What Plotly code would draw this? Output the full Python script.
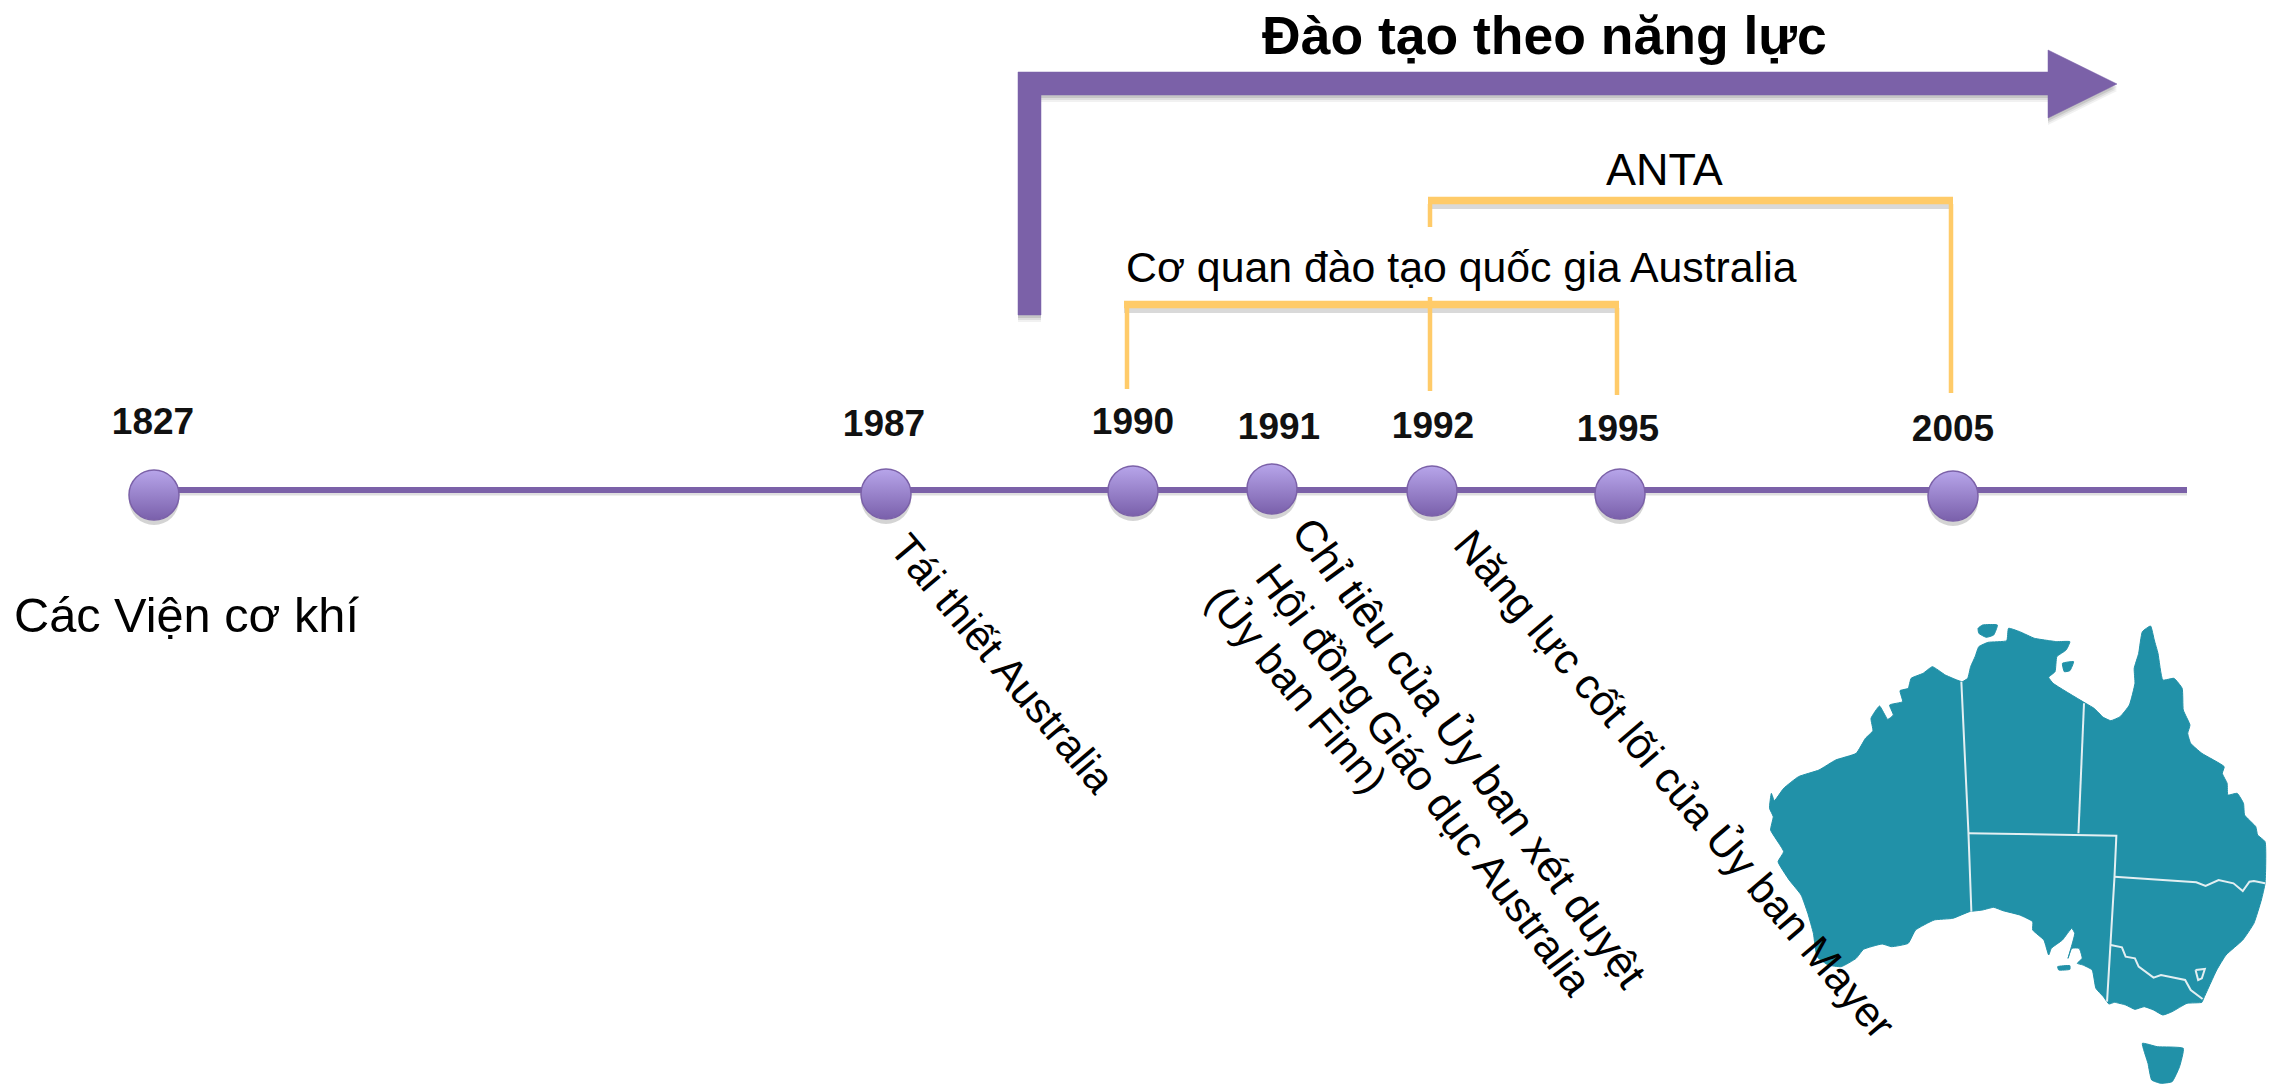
import plotly.graph_objects as go

# ---- Timeline data ----
years = ["1827", "1987", "1990", "1991", "1992", "1995", "2005"]
node_x = [154, 886, 1133, 1272, 1432, 1620, 1953]
node_y = [495, 494, 491, 489, 491, 494, 496]
year_label_x = [153, 884, 1133, 1279, 1433, 1618, 1953]
year_label_y = [425, 427, 425, 430, 429, 432, 432]
axis_x = [175, 2187]
axis_y = [490, 490]

# ---- Purple arrow ----
arrow_x = [1018, 2048, 2048, 2117, 2048, 2048, 1041, 1041, 1018, 1018]
arrow_y = [72, 72, 50, 84, 118, 95, 95, 315, 315, 72]

# ---- Orange brackets ----
anta_x = [1430, 1430, None, 1430, 1430, None, 1951, 1951]
anta_y = [204, 227, None, 297, 391, None, 204, 393]
anta_top_x = [1428, 1953]
anta_top_y = [200.5, 200.5]
agency_x = [1127, 1127, None, 1617, 1617]
agency_y = [308, 389, None, 308, 395]
agency_top_x = [1124, 1619]
agency_top_y = [304.5, 304.5]

# ---- Rotated and plain labels ----
title_text = "Đào tạo theo năng lực"
rotated_labels = ["Tái thiết Australia", "Chỉ tiêu của Ủy ban xét duyệt",
                  "Hội đồng Giáo dục Australia", "(Ủy ban Finn)",
                  "Năng lực cốt lõi của Ủy ban Mayer"]
rotated_x = [1003, 1470, 1424, 1297, 1675]
rotated_y = [663, 752, 779, 689, 784]
rotated_angle = [50, 54, 53, 50, 49.5]
rotated_size = [42, 43.5, 42.5, 42, 42.5]

# ---- Map of Australia, traced in crop coordinates ----
main_pts = [(705,245),(720,235),(728,200),(740,170),(750,140),(775,127),(825,122),(830,85),(860,95),(900,115),
 (940,122),(960,125),(995,125),(985,150),(960,170),(955,215),(938,232),(950,250),(1030,305),(1060,325),(1085,352),
 (1105,362),(1130,350),(1155,315),(1170,250),(1168,205),(1180,160),(1190,95),(1212,78),(1222,120),(1232,160),
 (1245,240),(1275,235),(1297,265),(1300,330),(1318,375),(1312,400),(1320,430),(1350,460),(1410,500),(1405,520),
 (1418,550),(1420,585),(1445,580),(1462,610),(1465,645),(1495,680),(1500,705),(1520,725),(1520,850),(1510,900),
 (1490,970),(1460,1020),(1415,1065),(1390,1110),(1355,1195),(1350,1207),(1310,1210),(1270,1235),(1245,1245),
 (1220,1230),(1195,1220),(1170,1228),(1145,1215),(1115,1207),(1100,1212),(1085,1190),(1065,1165),(1055,1110),
 (1030,1095),(1015,1090),(1028,1075),(1020,1045),(1000,1045),(990,1075),(1008,1000),(1000,985),(975,1020),
 (945,1045),(938,1065),(925,1020),(895,990),(895,965),(860,945),(815,932),(790,922),(760,930),(725,935),(680,955),
 (630,960),(580,990),(560,1030),(515,1040),(490,1032),(440,1048),(420,1075),(380,1100),(345,1095),(315,1070),
 (305,1000),(290,940),(272,885),(240,840),(210,785),(225,755),(190,690),(197,650),(187,625),(192,580),(200,602),
 (225,565),(265,530),(320,510),(365,480),(420,460),(445,415),(465,392),(460,355),(483,318),(505,358),(520,345),
 (510,315),(545,305),(538,272),(560,265),(568,235),(600,220),(625,200),(660,225),(705,245)]
islands = [
 [(1190,1330),(1230,1340),(1300,1345),(1290,1400),(1270,1445),(1240,1450),(1215,1440),(1205,1390),(1190,1330)],
 [(748,85),(760,75),(800,75),(790,105),(770,112),(750,100),(748,85)],
 [(975,190),(1005,185),(995,212),(980,215),(975,190)],
 [(962,1100),(995,1097),(995,1108),(965,1110),(962,1100)],
]
borders = [
 [(703,245),(722,695),(730,935)],
 [(1033,310),(1018,700)],
 [(722,700),(1120,707),(1115,830),(1105,1035),(1095,1205)],
 [(1115,830),(1335,847),(1360,858),(1395,840),(1435,850),(1460,873),(1478,845),(1490,843),(1520,850)],
 [(1105,1035),(1135,1042),(1145,1070),(1170,1075),(1180,1100),(1220,1133),(1240,1125),(1305,1140),(1320,1170),(1352,1197)],
 [(1333,1110),(1358,1107),(1350,1135),(1340,1140),(1333,1110)],
]

PURPLE = "#7B61A8"
ORANGE = "#FFCB69"
TEAL = "#2191A8"
FONT = "Liberation Sans"


def crop_xy(paths):
    xs, ys = [], []
    for path in paths:
        for zx, zy in path:
            xs.append(1700 + zx / 2.69)
            ys.append(600 + zy / 3)
        xs.append(None)
        ys.append(None)
    return xs, ys


def shifted(vals, d):
    return [None if v is None else v + d for v in vals]


fig = go.Figure()


def add_line(x, y, color, width):
    fig.add_trace(go.Scatter(x=x, y=y, mode="lines", line=dict(color=color, width=width),
                             hoverinfo="skip", showlegend=False))


# Map
mx, my = crop_xy([main_pts] + islands)
fig.add_trace(go.Scatter(x=mx, y=my, mode="lines", fill="toself", fillcolor=TEAL,
                         line=dict(color=TEAL, width=1, shape="spline", smoothing=0.4),
                         hoverinfo="skip", showlegend=False))
bx, by = crop_xy(borders)
add_line(bx, by, "#E3EFF2", 2)

# Arrow with soft shadow
for d, a in [(7, 0.07), (5, 0.10), (3, 0.14)]:
    fig.add_trace(go.Scatter(x=arrow_x, y=shifted(arrow_y, d), mode="lines", fill="toself",
                             fillcolor=f"rgba(60,60,60,{a})", line=dict(width=0),
                             hoverinfo="skip", showlegend=False))
fig.add_trace(go.Scatter(x=arrow_x, y=arrow_y, mode="lines", fill="toself", fillcolor=PURPLE,
                         line=dict(color=PURPLE, width=0.5), hoverinfo="skip", showlegend=False))

# Brackets with shadow under the top bars
for tx, ty in [(anta_top_x, anta_top_y), (agency_top_x, agency_top_y)]:
    add_line(tx, shifted(ty, 5), "rgba(80,80,80,0.22)", 7)
    add_line(tx, ty, ORANGE, 7.5)
add_line(anta_x, anta_y, ORANGE, 4.5)
add_line(agency_x, agency_y, ORANGE, 4.5)

# Timeline axis
add_line(axis_x, shifted(axis_y, 3), "rgba(80,80,80,0.18)", 5)
add_line(axis_x, axis_y, PURPLE, 6)

# Nodes: shadow and gradient discs
fig.add_trace(go.Scatter(x=node_x, y=shifted(node_y, 5), mode="markers",
                         marker=dict(size=50, color="rgba(60,60,60,0.22)", line=dict(width=0)),
                         hoverinfo="skip", showlegend=False))
fig.add_trace(go.Scatter(x=node_x, y=node_y, mode="markers",
                         marker=dict(size=50, color="#B7A5EA",
                                     gradient=dict(type="vertical", color="#7A60AB"),
                                     line=dict(color="#7B61A8", width=1.5)),
                         hoverinfo="skip", showlegend=False))

# Year labels
fig.add_trace(go.Scatter(x=year_label_x, y=year_label_y, mode="text", text=years,
                         textposition="middle center",
                         textfont=dict(family=FONT, size=37, color="#111111", weight="bold"),
                         hoverinfo="skip", showlegend=False))

annotations = [
    dict(x=1544, y=35, text=f"<b>{title_text}</b>", font=dict(family=FONT, size=53.5, color="#000")),
    dict(x=1664, y=169, text="ANTA", font=dict(family=FONT, size=45, color="#000")),
    dict(x=1461, y=267, text="Cơ quan đào tạo quốc gia Australia", font=dict(family=FONT, size=42.8, color="#000")),
    dict(x=186, y=615, text="Các Viện cơ khí", font=dict(family=FONT, size=48.7, color="#000")),
]
for t, x, y, ang, s in zip(rotated_labels, rotated_x, rotated_y, rotated_angle, rotated_size):
    annotations.append(dict(x=x, y=y, text=t, textangle=ang, font=dict(family=FONT, size=s, color="#000")))
for a in annotations:
    a.update(showarrow=False, xref="x", yref="y", xanchor="center", yanchor="middle")

fig.update_layout(
    width=2283, height=1084, autosize=False,
    margin=dict(l=0, r=0, t=0, b=0),
    paper_bgcolor="white", plot_bgcolor="white",
    xaxis=dict(range=[0, 2283], visible=False, fixedrange=True),
    yaxis=dict(range=[1084, 0], visible=False, fixedrange=True),
    annotations=annotations, showlegend=False,
)
fig.write_html("out.html", config={"displayModeBar": False},
               post_script="document.body.style.margin='0';document.body.style.overflow='hidden';")
